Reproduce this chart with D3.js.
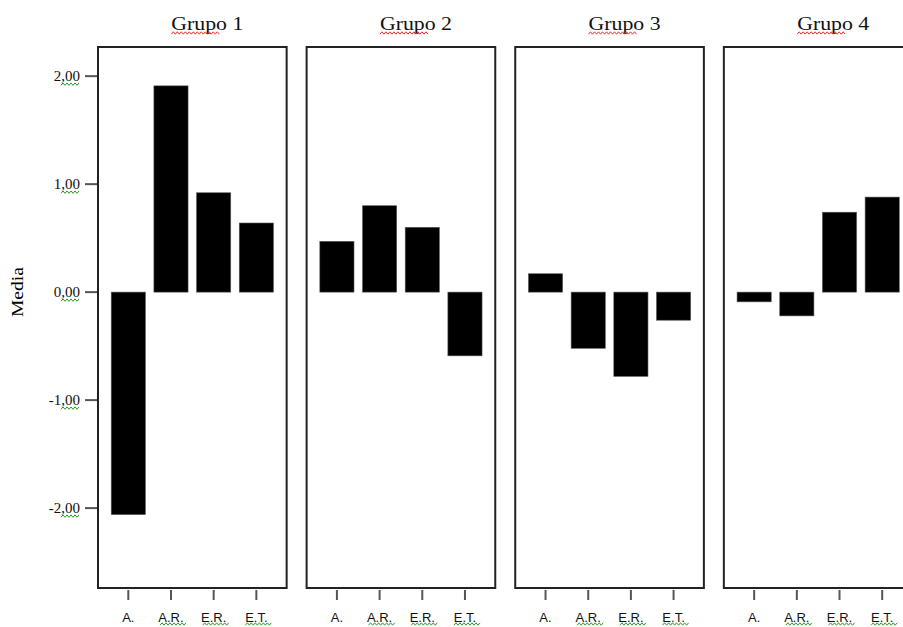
<!DOCTYPE html>
<html><head><meta charset="utf-8">
<script src="https://cdn.jsdelivr.net/npm/d3@7"></script>
<style>body{margin:0;background:#fff}svg{display:block}</style>
</head><body><svg id="c" width="903" height="627"></svg>
<script>
const groups = ["Grupo 1","Grupo 2","Grupo 3","Grupo 4"];
const categories = ["A.","A.R.","E.R.","E.T."];
const g1 = [-2.06, 1.91, 0.92, 0.64];
const g2 = [0.47, 0.80, 0.60, -0.59];
const g3 = [0.17, -0.52, -0.78, -0.26];
const g4 = [-0.09, -0.22, 0.74, 0.88];
const yTicks = [2, 1, 0, -1, -2];
const yLabel = "Media";

(function(){
const series = [g1,g2,g3,g4];
const svg = d3.select("#c");
const pTop = 47, pBottom = 588;
const y = d3.scaleLinear().domain([-2.74, 2.27]).range([pBottom, pTop]);
const panel = d3.scaleBand().domain(groups).range([98, 912.5]).paddingInner(20/209);
const w = panel.bandwidth();
const fmt = d => d3.format(".2f")(d).replace(".", ",").replace("\u2212", "-");

function wavy(sel, x1, x2, yy, color) {
  const pts = [];
  for (let x = x1, k = 0; x <= x2; x += 2, k++) pts.push([x, yy + (k % 2 ? -1.2 : 1.2)]);
  sel.append("path").attr("d", d3.line()(pts)).attr("fill","none")
    .attr("stroke", color).attr("stroke-width", 1);
}

const ya = svg.append("g");
yTicks.forEach(t => {
  ya.append("line").attr("x1",85).attr("x2",97).attr("y1",y(t)).attr("y2",y(t))
    .attr("stroke","#555").attr("stroke-width",2);
  ya.append("text").attr("x",80).attr("y",y(t)+5).attr("text-anchor","end")
    .attr("font-family","Liberation Serif").attr("font-size",15).attr("fill","#111").text(fmt(t));
  wavy(ya, 61, 80, y(t)+8, "#2a9a2a");
});
svg.append("text").attr("transform",`translate(23,${y(0)}) rotate(-90)`)
  .attr("text-anchor","middle").attr("font-family","Liberation Serif").attr("font-size",16)
  .attr("textLength",50).attr("lengthAdjust","spacingAndGlyphs").text(yLabel);

groups.forEach((gname, i) => {
  const x0 = panel(gname);
  const gg = svg.append("g").attr("transform",`translate(${x0},0)`);
  const x = d3.scaleBand().domain(categories).range([0, w]).paddingInner(0.2).paddingOuter(0.31);
  gg.selectAll("rect.bar").data(series[i]).join("rect")
    .attr("x",(d,j)=>x(categories[j])).attr("width",x.bandwidth())
    .attr("y",d=>y(Math.max(0,d))).attr("height",d=>Math.abs(y(d)-y(0)))
    .attr("fill","#000").attr("stroke","#555").attr("stroke-width",0.6);
  gg.append("rect").attr("x",0).attr("y",pTop).attr("width",w).attr("height",pBottom-pTop)
    .attr("fill","none").attr("stroke","#222").attr("stroke-width",2);
  categories.forEach((c, j) => {
    const cx = x(c)+x.bandwidth()/2;
    gg.append("line").attr("x1",cx).attr("x2",cx).attr("y1",pBottom+2).attr("y2",pBottom+12)
      .attr("stroke","#555").attr("stroke-width",2);
    gg.append("text").attr("x",cx).attr("y",pBottom+34).attr("text-anchor","middle")
      .attr("font-family","Liberation Sans").attr("font-size",13).attr("fill","#111").text(c);
    if (j > 0) wavy(gg, cx - 11, cx + 15, pBottom + 36, "#2a9a2a");
  });
  gg.append("text").attr("x",w/2+15).attr("y",30).attr("text-anchor","middle")
    .attr("font-family","Liberation Serif").attr("font-size",19)
    .attr("textLength",72).attr("lengthAdjust","spacingAndGlyphs").attr("fill","#111").text(gname);
  wavy(gg, w/2 - 21, w/2 + 28, 33, "#e03030");
});
})();
</script></body></html>
